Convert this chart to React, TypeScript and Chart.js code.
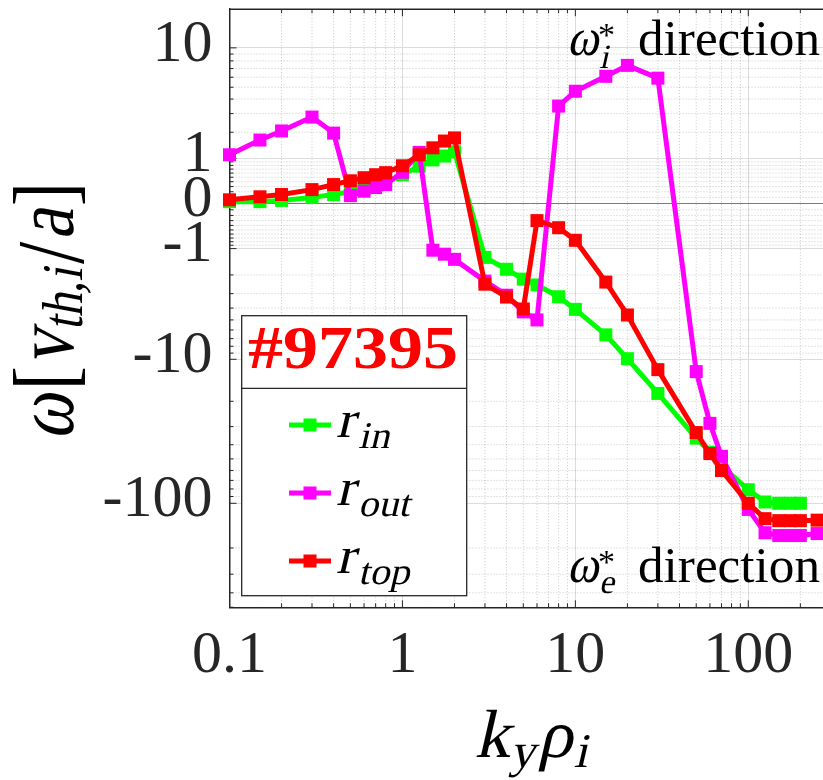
import React, { useEffect, useRef } from 'react';
import { Chart, LinearScale, registerables } from 'chart.js';

// Wavenumber grid k_y rho_i
const KY = [0.1, 0.15, 0.2, 0.3, 0.4, 0.5, 0.6, 0.7, 0.8, 1.0, 1.25, 1.5, 1.75, 2.0, 3, 4, 5, 6, 8, 10, 15, 20, 30, 50, 60, 70, 100, 125, 150, 175, 200, 250];

// Real frequency omega [v_th,i / a] at the three radial positions
const OMEGA_IN = [0.03, 0.03, 0.05, 0.1, 0.15, 0.2, 0.26, 0.33, 0.4, 0.56, 0.78, 0.96, 1.08, 1.22, -1.29, -1.75, -2.2, -2.5, -3.2, -4.1, -6.55, -9.9, -17.6, -36, -45, -56, -81, -98, -100, -100, -100, null];
const OMEGA_OUT = [1.12, 1.66, 2.06, 2.79, 1.96, 0.13, 0.21, 0.28, 0.34, 0.62, 1.2, -1.05, -1.18, -1.36, -2.3, -3.1, -4.3, -5.0, 3.49, 4.64, 6.1, 7.4, 5.9, -12.3, -28.5, -48, -110, -158, -165, -165, -165, -160];
const OMEGA_TOP = [0.06, 0.11, 0.15, 0.24, 0.34, 0.42, 0.49, 0.56, 0.61, 0.79, 1.12, 1.36, 1.62, 1.75, -2.46, -3.22, -4.07, -0.3, -0.45, -0.76, -2.35, -4.56, -11.9, -33, -46, -60, -100, -127, -131, -131, -131, -130];

const SERIES_LABELS = [['r', 'in'], ['r', 'out'], ['r', 'top']];
const SERIES_COLORS = ['#00ff00', '#ff00ff', '#ff0000'];

const X_TICKS = [0.1, 1, 10, 100];
const Y_TICKS = [-100, -10, -1, 0, 1, 10];
const SHOT_LABEL = '#97395';

const X_MIN = 0.1;
const X_MAX = 300;

// symmetric log transform: sign(v) * log10(1 + |v|)
const symT = (v: number) => Math.sign(v) * Math.log10(1 + Math.abs(v));
const symInv = (t: number) => Math.sign(t) * (Math.pow(10, Math.abs(t)) - 1);
const Y_MIN = symInv(-2.7);
const Y_MAX = symInv(1.3);

// minor grid positions
const X_MINOR: number[] = [];
for (const d of [0.1, 1, 10, 100]) for (let m = 2; m <= 9; m++) if (m * d <= X_MAX) X_MINOR.push(m * d);
const Y_MINOR: number[] = [];
for (let m = 1; m <= 9; m++) Y_MINOR.push(m / 10, -m / 10);
for (const d of [1, 10, 100]) for (let m = 2; m <= 9; m++) {
  if (m * d <= Y_MAX) Y_MINOR.push(m * d);
  if (-m * d >= Y_MIN - 1) Y_MINOR.push(-m * d);
}

const AXIS_COLOR = '#262626';
const SERIF = '"Liberation Serif", "DejaVu Serif", serif';
const SLANT = -0.22;

class SymlogScale extends (LinearScale as any) {
  static id = 'symlog';
  static defaults = (LinearScale as any).defaults;
  buildTicks() {
    return Y_TICKS.map((value) => ({ value }));
  }
  getPixelForValue(value: number) {
    const a = symT(this.min), b = symT(this.max);
    return this.getPixelForDecimal((symT(value) - a) / (b - a));
  }
  getValueForPixel(pixel: number) {
    const a = symT(this.min), b = symT(this.max);
    return symInv(a + this.getDecimalForPixel(pixel) * (b - a));
  }
}

Chart.register(...registerables, SymlogScale as any);

// math-style text runs; italic runs are slanted serif glyphs
type Run = { t: string; size: number; italic?: boolean; bold?: boolean; dy?: number; gap?: number };
const fontOf = (r: Run) => `${r.bold ? 'bold ' : ''}${r.size}px ${SERIF}`;

function runsWidth(ctx: CanvasRenderingContext2D, runs: Run[]) {
  let w = 0;
  for (const r of runs) {
    ctx.font = fontOf(r);
    w += ctx.measureText(r.t).width + (r.gap || 0);
  }
  return w;
}

function drawRuns(
  ctx: CanvasRenderingContext2D,
  runs: Run[],
  x: number,
  y: number,
  opts: { width?: number; sx?: number; sy?: number; rotate?: boolean; color?: string } = {}
) {
  const nat = runsWidth(ctx, runs);
  const sx = opts.width ? opts.width / nat : opts.sx ?? 1;
  ctx.save();
  ctx.translate(x, y);
  if (opts.rotate) ctx.rotate(-Math.PI / 2);
  ctx.scale(sx, opts.sy ?? 1);
  ctx.fillStyle = opts.color ?? '#000';
  ctx.textAlign = 'left';
  ctx.textBaseline = 'alphabetic';
  let cx = 0;
  for (const r of runs) {
    ctx.font = fontOf(r);
    ctx.save();
    ctx.translate(cx, r.dy || 0);
    if (r.italic) ctx.transform(1, 0, SLANT, 1, 0, 0);
    ctx.fillText(r.t, 0, 0);
    ctx.restore();
    cx += ctx.measureText(r.t).width + (r.gap || 0);
  }
  ctx.restore();
}

function hline(ctx: CanvasRenderingContext2D, x0: number, x1: number, y: number) {
  ctx.beginPath();
  ctx.moveTo(x0, y);
  ctx.lineTo(x1, y);
  ctx.stroke();
}
function vline(ctx: CanvasRenderingContext2D, x: number, y0: number, y1: number) {
  ctx.beginPath();
  ctx.moveTo(x, y0);
  ctx.lineTo(x, y1);
  ctx.stroke();
}

const axesDecor = {
  id: 'axesDecor',
  beforeDatasetsDraw(chart: any) {
    const { ctx, chartArea: a, scales } = chart;
    const xs = scales.x, ys = scales.y;
    // dotted minor grid
    ctx.save();
    ctx.beginPath();
    ctx.rect(a.left, a.top, a.right - a.left, a.bottom - a.top);
    ctx.clip();
    ctx.strokeStyle = 'rgba(0,0,0,0.22)';
    ctx.lineWidth = 1;
    ctx.setLineDash([1, 2]);
    for (const v of X_MINOR) vline(ctx, xs.getPixelForValue(v), a.top, a.bottom);
    for (const v of Y_MINOR) hline(ctx, a.left, a.right, ys.getPixelForValue(v));
    ctx.restore();

    // inward tick marks and top box edge
    ctx.save();
    ctx.strokeStyle = AXIS_COLOR;
    ctx.lineWidth = 1;
    for (const v of X_TICKS) {
      const px = xs.getPixelForValue(v);
      vline(ctx, px, a.bottom, a.bottom - 7);
      vline(ctx, px, a.top, a.top + 7);
    }
    for (const v of X_MINOR) {
      const px = xs.getPixelForValue(v);
      vline(ctx, px, a.bottom, a.bottom - 4);
      vline(ctx, px, a.top, a.top + 4);
    }
    for (const v of Y_TICKS) hline(ctx, a.left, a.left + 7, ys.getPixelForValue(v));
    for (const v of Y_MINOR) {
      const py = ys.getPixelForValue(v);
      if (py > a.top && py < a.bottom) hline(ctx, a.left, a.left + 4, py);
    }
    ctx.lineWidth = 1.5;
    hline(ctx, a.left, a.right, a.top);
    ctx.restore();
  },
  afterDraw(chart: any) {
    const ctx: CanvasRenderingContext2D = chart.ctx;

    // y axis title: omega [v_th,i / a]
    drawRuns(
      ctx,
      [
        { t: 'ω', size: 70, italic: true, gap: 4 },
        { t: '[', size: 72, gap: 1 },
        { t: 'v', size: 70, italic: true },
        { t: 'th,i', size: 48, italic: true, dy: 8, gap: 4 },
        { t: '/', size: 80, dy: 9, gap: 2 },
        { t: 'a', size: 70, italic: true, gap: 3 },
        { t: ']', size: 72 },
      ],
      72.5,
      440,
      { rotate: true, width: 258, sy: 1.2, color: '#000' }
    );

    // x axis title: k_y rho_i
    drawRuns(
      ctx,
      [
        { t: 'k', size: 62, italic: true },
        { t: 'y', size: 44, italic: true, dy: 9, gap: 2 },
        { t: 'ρ', size: 62, italic: true, gap: 1 },
        { t: 'i', size: 44, italic: true, dy: 9 },
      ],
      474.5,
      757,
      { width: 113, sy: 1.1 }
    );

    // propagation direction annotations
    const dirRow = (sub: string, base: number, starBase: number, subBase: number) => {
      drawRuns(ctx, [{ t: 'ω', size: 48, italic: true }], 567, base, { sy: 1.1 });
      drawRuns(ctx, [{ t: '*', size: 34 }], 598, starBase);
      drawRuns(ctx, [{ t: sub, size: 34, italic: true }], 599, subBase);
      drawRuns(ctx, [{ t: 'direction', size: 48 }], 638, base, { width: 182, sy: 1.05 });
    };
    dirRow('i', 55, 46, 68);
    dirRow('e', 582, 573, 593);

    // legend box
    const L = 241.7, R = 466.7, T = 315.7, B = 595.7, D = 388.3;
    ctx.save();
    ctx.fillStyle = '#fff';
    ctx.fillRect(L, T, R - L, B - T);
    ctx.strokeStyle = AXIS_COLOR;
    ctx.lineWidth = 1.3;
    ctx.strokeRect(L, T, R - L, B - T);
    hline(ctx, L, R, D);
    ctx.restore();

    drawRuns(ctx, [{ t: SHOT_LABEL, size: 62, bold: true }], 248, 368, { width: 210, color: '#ff0000' });

    const rows = [425, 493, 561];
    chart.data.datasets.forEach((ds: any, i: number) => {
      const yc = rows[i];
      ctx.save();
      ctx.strokeStyle = ds.borderColor;
      ctx.lineWidth = 5;
      hline(ctx, 289, 331, yc);
      ctx.fillStyle = ds.borderColor;
      ctx.fillRect(310 - 6.5, yc - 6.5, 13, 13);
      ctx.restore();
      const [main, sub] = SERIES_LABELS[i];
      drawRuns(
        ctx,
        [
          { t: main, size: 50, italic: true, gap: 3 },
          { t: sub, size: 36, italic: true, dy: 10 },
        ],
        336,
        yc + 12,
        { sx: 1.12, sy: 1.05 }
      );
    });
  },
};

export default function App() {
  const ref = useRef<HTMLCanvasElement>(null);

  useEffect(() => {
    const mk = (vals: (number | null)[], color: string, label: string, order: number) => ({
      label,
      data: KY.map((x, i) => ({ x, y: vals[i] })).filter((p) => p.y !== null),
      borderColor: color,
      backgroundColor: color,
      pointBackgroundColor: color,
      borderWidth: 5,
      borderJoinStyle: 'round' as const,
      pointStyle: 'rect' as const,
      pointRadius: 9.2,
      pointBorderWidth: 0,
      tension: 0,
      clip: false as any,
      order,
    });

    const chart = new Chart(ref.current!, {
      type: 'line',
      data: {
        datasets: [
          mk(OMEGA_IN, SERIES_COLORS[0], SERIES_LABELS[0].join('_'), 3),
          mk(OMEGA_OUT, SERIES_COLORS[1], SERIES_LABELS[1].join('_'), 2),
          mk(OMEGA_TOP, SERIES_COLORS[2], SERIES_LABELS[2].join('_'), 1),
        ],
      },
      options: {
        animation: false,
        responsive: false,
        events: [],
        layout: { padding: { left: 0, top: 5.7, right: 8, bottom: 0 } },
        plugins: { legend: { display: false }, tooltip: { enabled: false } },
        scales: {
          x: {
            type: 'logarithmic',
            min: X_MIN,
            max: X_MAX,
            afterBuildTicks: (s: any) => {
              s.ticks = X_TICKS.map((value) => ({ value }));
            },
            afterFit: (s: any) => {
              s.height = 172.7;
              s.paddingLeft = 0;
              s.paddingRight = 0;
              s.paddingTop = 0;
              s.paddingBottom = 0;
            },
            grid: { color: '#dcdcdc', lineWidth: 1, drawTicks: false },
            border: { display: true, color: AXIS_COLOR, width: 1.5 },
            ticks: {
              autoSkip: false,
              maxRotation: 0,
              padding: 19,
              color: AXIS_COLOR,
              font: { family: SERIF, size: 60, lineHeight: 1 },
              callback: (v: any) => String(v),
            },
          },
          y: {
            type: 'symlog' as any,
            min: Y_MIN,
            max: Y_MAX,
            afterFit: (s: any) => {
              s.width = 229.5;
              s.paddingLeft = 0;
              s.paddingRight = 0;
              s.paddingTop = 0;
              s.paddingBottom = 0;
            },
            grid: {
              color: (c: any) => (c.tick && c.tick.value === 0 ? '#7a7a7a' : '#dcdcdc'),
              lineWidth: 1,
              drawTicks: false,
            },
            border: { display: true, color: AXIS_COLOR, width: 1.5 },
            ticks: {
              autoSkip: false,
              padding: 17,
              labelOffset: -3,
              color: AXIS_COLOR,
              font: { family: SERIF, size: 60, lineHeight: 1 },
              callback: (v: any) => String(v),
            },
          } as any,
        },
      } as any,
      plugins: [axesDecor],
    });
    return () => chart.destroy();
  }, []);

  return (
    <div
      style={{
        position: 'fixed',
        left: 0,
        top: 0,
        width: 823,
        height: 780,
        overflow: 'hidden',
        background: '#fff',
      }}
    >
      <canvas ref={ref} width={840} height={780} style={{ display: 'block', width: 840, height: 780 }} />
    </div>
  );
}
